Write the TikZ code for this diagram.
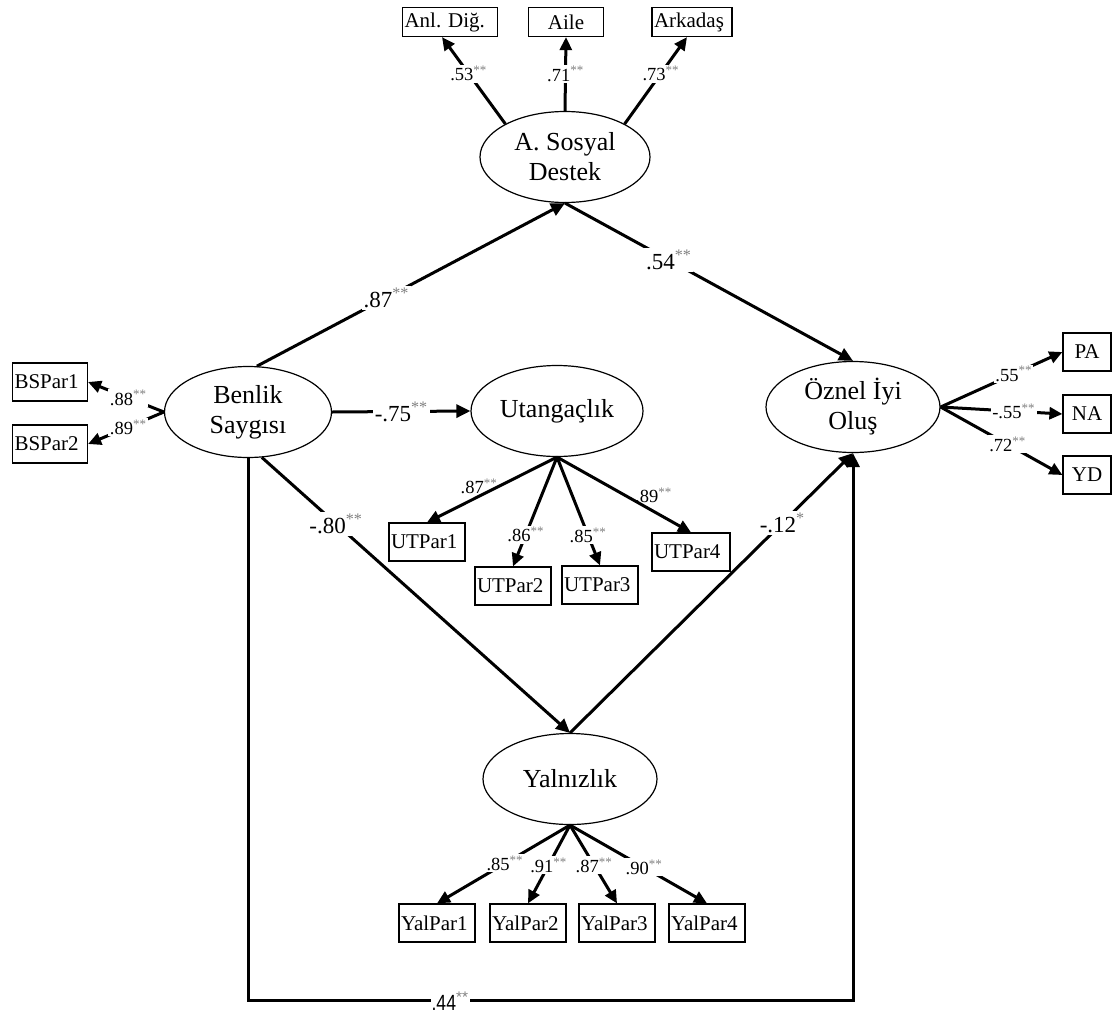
\documentclass[tikz,border=0pt]{standalone}
\usepackage{fontspec}
\setmainfont{Liberation Serif}
\newfontfamily\sansnarrow{Liberation Sans}
\usetikzlibrary{arrows.meta,shapes.geometric,calc}
\definecolor{sgray}{gray}{0.5}
\newcommand{\sg}[1]{\textsuperscript{\textcolor{sgray}{#1}}}
\begin{document}
\begin{tikzpicture}[x=1pt,y=-1pt,
  lat/.style={ellipse, draw, line width=1.2pt, minimum width=170pt, minimum height=91pt, inner sep=0pt, align=center, font=\fontsize{26}{30}\selectfont},
  obs/.style={rectangle, draw, line width=1.2pt, inner ysep=0pt, inner xsep=2pt, minimum height=38pt, font=\fontsize{21}{23}\selectfont},
  obsl/.style={obs, align=left, text width=#1},
  obsc/.style={obs, align=center, text width=#1},
  mainarrow/.style={line width=3pt, line join=miter, -{Triangle[length=14pt,width=13pt]}},
  indarrow/.style={line width=3pt, -{Triangle[length=13pt,width=12pt]}},
  plab/.style={fill=white, inner sep=2pt, font=\fontsize{23}{25}\selectfont},
  llab/.style={fill=white, inner sep=1.5pt, font=\fontsize{18.5}{20}\selectfont},
  llabn/.style={inner sep=1pt, font=\fontsize{18.5}{20}\selectfont},
]
\useasboundingbox (0,0) rectangle (1113,1017);
\fill[white] (0,0) rectangle (1113,1017);

% latent variables
\node[lat] (asd) at (565,157) {A. Sosyal\\Destek};
\node[lat, minimum width=167pt] (bs) at (248,412) {Benlik\\Saygısı};
\node[lat, minimum width=172pt] (ut) at (557,411) {Utangaçlık};
\node[lat, minimum width=174pt] (oz) at (853,407) {Öznel İyi\\Oluş};
\node[lat, minimum width=174pt] (yal) at (570,779) {Yalnızlık};

% observed variables
\node[obsl=91pt, minimum height=29pt] (anl) at (450,22) {Anl.\ Diğ.};
\node[obsc=71pt, minimum height=29pt] (aile) at (566,22) {Aile};
\node[obsl=76pt, minimum height=29pt] (ark) at (692,22) {Arkadaş};
\node[obsl=71pt] (bp1) at (50,382) {BSPar1};
\node[obsl=71pt] (bp2) at (50,444) {BSPar2};
\node[obsc=44pt] (pa) at (1087,352) {PA};
\node[obsc=44pt] (na) at (1087,414) {NA};
\node[obsc=44pt] (yd) at (1087,475) {YD};
\node[obsl=72pt] (u1) at (427,542) {UTPar1};
\node[obsl=72pt] (u2) at (513,586) {UTPar2};
\node[obsl=72pt] (u3) at (600,585) {UTPar3};
\node[obsl=74pt] (u4) at (691,552) {UTPar4};
\node[obsl=72pt] (y1) at (437,923) {YalPar1};
\node[obsl=72pt] (y2) at (528,923) {YalPar2};
\node[obsl=72pt] (y3) at (617,923) {YalPar3};
\node[obsl=72pt] (y4) at (707,923) {YalPar4};

% A. Sosyal Destek indicators
\draw[indarrow] (asd.151) -- node[llab,pos=0.58]{.53\sg{**}} ($(anl.south)+(-8,0)$);
\draw[indarrow] (asd.north) -- node[llab,pos=0.5]{.71\sg{**}} (aile.south);
\draw[indarrow] (asd.29) -- node[llab,pos=0.58]{.73\sg{**}} ($(ark.south)+(-5,0)$);

% Benlik indicators
\draw[indarrow] (bs.west) -- node[llab,pos=0.47]{.88\sg{**}} (bp1.east);
\draw[indarrow] (bs.west) -- node[llab,pos=0.47]{.89\sg{**}} (bp2.east);

% Oznel indicators
\draw[indarrow] (oz.east) -- node[llab,pos=0.6]{.55\sg{**}} (pa.west);
\draw[indarrow] (oz.east) -- node[llab,pos=0.6]{-.55\sg{**}} (na.west);
\draw[indarrow] (oz.east) -- node[llab,pos=0.55]{.72\sg{**}} (yd.west);

% Utangaclik indicators
\draw[indarrow] (ut.south) -- node[llabn,pos=0.6,anchor=south]{.87\sg{**}} (u1.north);
\draw[indarrow] (ut.south) -- node[llab,pos=0.71]{.86\sg{**}} (u2.north);
\draw[indarrow] (ut.south) -- node[llab,pos=0.72]{.85\sg{**}} (u3.north);
\draw[indarrow] (ut.south) -- node[llabn,pos=0.72,anchor=south,yshift=6pt]{.89\sg{**}} (u4.north);

% Yalnizlik indicators
\draw[indarrow] (yal.south) -- node[llab,pos=0.49]{.85\sg{**}} (y1.north);
\draw[indarrow] (yal.south) -- node[llab,pos=0.51]{.91\sg{**}} (y2.north);
\draw[indarrow] (yal.south) -- node[llab,pos=0.51]{.87\sg{**}} (y3.north);
\draw[indarrow] (yal.south) -- node[llab,pos=0.54]{.90\sg{**}} (y4.north);

% structural paths
\draw[mainarrow] (bs.79) -- node[plab,pos=0.42]{.87\sg{**}} (asd.south);
\draw[mainarrow] (asd.south) -- node[plab,pos=0.36]{.54\sg{**}} (oz.north);
\draw[mainarrow] (bs.east) -- node[plab,pos=0.5]{-.75\sg{**}} (ut.west);
\draw[mainarrow] (bs.-73) -- node[plab,pos=0.24]{-.80\sg{**}} (yal.north);
\draw[mainarrow] (yal.north) -- node[plab,pos=0.75]{-.12\sg{*}} (oz.south);

\coordinate (bl) at (248,1000);
\coordinate (br) at (853,1000);
\draw[mainarrow] (bs.south) -- (bl) -- node[fill=white, inner sep=1pt, pos=0.334, yshift=-1pt, font=\sansnarrow\fontsize{22}{24}\selectfont]{\scalebox{0.8}[1]{.44}\sg{**}} (br) -- (oz.south);
\end{tikzpicture}
\end{document}
